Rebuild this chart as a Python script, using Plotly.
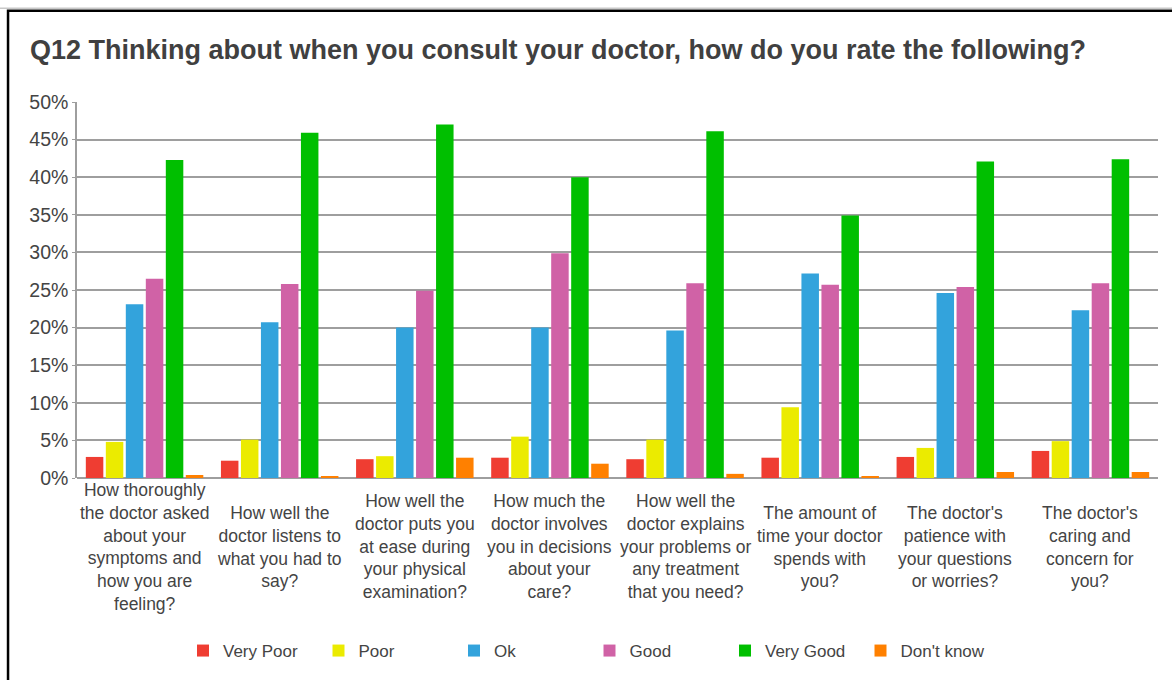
import plotly.graph_objects as go

# Survey questions (x categories) and wrapped labels drawn under each group
questions = [
    "How thoroughly<br>the doctor asked<br>about your<br>symptoms and<br>how you are<br>feeling?",
    "How well the<br>doctor listens to<br>what you had to<br>say?",
    "How well the<br>doctor puts you<br>at ease during<br>your physical<br>examination?",
    "How much the<br>doctor involves<br>you in decisions<br>about your<br>care?",
    "How well the<br>doctor explains<br>your problems or<br>any treatment<br>that you need?",
    "The amount of<br>time your doctor<br>spends with<br>you?",
    "The doctor's<br>patience with<br>your questions<br>or worries?",
    "The doctor's<br>caring and<br>concern for<br>you?",
]

# Share of respondents (%) per rating
very_poor = [2.8, 2.3, 2.5, 2.7, 2.5, 2.7, 2.8, 3.6]
poor = [4.8, 5.1, 2.9, 5.5, 5.1, 9.4, 4.0, 4.9]
ok = [23.1, 20.7, 20.0, 20.0, 19.6, 27.2, 24.6, 22.3]
good = [26.5, 25.8, 24.9, 29.9, 25.9, 25.7, 25.4, 25.9]
very_good = [42.3, 45.9, 47.0, 40.0, 46.1, 34.9, 42.1, 42.4]
dont_know = [0.4, 0.15, 2.7, 1.9, 0.55, 0.15, 0.8, 0.8]

series_names = ["Very Poor", "Poor", "Ok", "Good", "Very Good", "Don't know"]
series_values = [very_poor, poor, ok, good, very_good, dont_know]
series_colors = ["#EF3D32", "#EBEB00", "#33A3DC", "#D062A6", "#00BF00", "#FF8000"]

y_ticks = [0, 5, 10, 15, 20, 25, 30, 35, 40, 45, 50]
y_tick_labels = ["0%", "5%", "10%", "15%", "20%", "25%", "30%", "35%", "40%", "45%", "50%"]

FONT = "Liberation Sans, Arial, sans-serif"
TEXT = "#444444"

fig = go.Figure()
for name, vals, col in zip(series_names, series_values, series_colors):
    fig.add_trace(go.Bar(
        name=name, x=questions, y=vals,
        marker=dict(color=col, line=dict(width=0)),
    ))

# Category labels, vertically centred in the band beneath the bars
for q in questions:
    fig.add_annotation(
        x=q, xref="x", y=-0.183, yref="paper",
        text=q, showarrow=False, xanchor="center", yanchor="middle",
        align="center", font=dict(family=FONT, size=17.5, color=TEXT),
    )

# Outer frame (top and left edges visible) and faint page line above it
fig.add_shape(type="line", xref="paper", yref="paper",
              x0=-0.1, x1=1.1, y0=1.2493, y1=1.2493,
              line=dict(color="#c8c8c8", width=1.5), layer="above")
fig.add_shape(type="rect", xref="paper", yref="paper",
              x0=-0.0638, x1=1.1, y0=-1.0, y1=1.2427,
              line=dict(color="#000000", width=2.5), layer="above")

fig.update_layout(
    width=1172, height=680,
    margin=dict(l=77, r=14, t=102, b=201),
    paper_bgcolor="white", plot_bgcolor="white",
    barmode="group", bargap=0.112, bargroupgap=0.125,
    title=dict(
        text="<b>Q12 Thinking about when you consult your doctor, how do you rate the following?</b>",
        x=30 / 1172, xanchor="left", xref="container",
        y=1 - 50 / 680, yanchor="middle", yref="container",
        font=dict(family=FONT, size=27, color="#404040"),
    ),
    font=dict(family=FONT, color=TEXT),
    showlegend=True,
    legend=dict(
        orientation="h", x=(183 - 77) / 1081, xanchor="left",
        y=(479 - 651) / 377, yanchor="middle",
        entrywidth=90.5, entrywidthmode="pixels",
        font=dict(family=FONT, size=17, color=TEXT),
        traceorder="normal",
    ),
    xaxis=dict(
        showticklabels=False, showgrid=False, zeroline=False,
        showline=False, ticks="",
    ),
    yaxis=dict(
        range=[0, 50], tickmode="array", tickvals=y_ticks, ticktext=y_tick_labels,
        showgrid=True, gridcolor="#9e9e9e", gridwidth=1.5,
        zeroline=True, zerolinecolor="#9e9e9e", zerolinewidth=1.5,
        showline=True, linecolor="#9e9e9e", linewidth=1.5,
        ticks="outside", ticklen=3, tickcolor="#9e9e9e",
        tickfont=dict(family=FONT, size=19.5, color=TEXT),
    ),
)

fig.write_html("out.html")
